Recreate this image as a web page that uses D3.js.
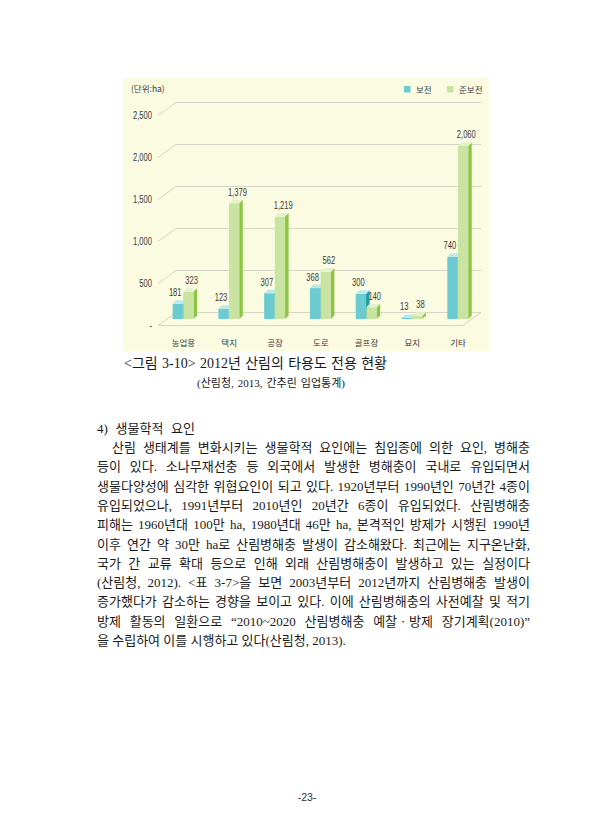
<!DOCTYPE html>
<html>
<head>
<meta charset="utf-8">
<script src="https://cdn.jsdelivr.net/npm/d3@7"></script>
<style>
  body { margin: 0; background: #fff; }
  svg { display: block; }
  .num { font-family: "Liberation Sans", "DejaVu Sans", sans-serif; font-size: 10px; fill: #3a3a3a; }
  .kr-small { font-family: "Noto Sans CJK KR", sans-serif; font-size: 8.5px; fill: #3a3a3a; }
  .body { font-family: "Liberation Serif", "Noto Sans CJK KR", serif; font-size: 13px; fill: #1a1a1a; }
</style>
</head>
<body>
<script>
"use strict";

// categories and series (unit: ha)
const categories = ["농업용", "택지", "공장", "도로", "골프장", "묘지", "기타"];
const seriesNames = ["보전", "준보전"];
const conserved = [181, 123, 307, 368, 300, 13, 740];
const semiConserved = [323, 1379, 1219, 562, 140, 38, 2060];
const yTicks = [0, 500, 1000, 1500, 2000, 2500];
const unitLabel = "(단위:ha)";

const captionText = "<그림 3-10> 2012년 산림의 타용도 전용 현황";
const sourceText = "(산림청, 2013, 간추린 임업통계)";
const headingText = "4) 생물학적 요인";
const bodyLines = [
  "산림 생태계를 변화시키는 생물학적 요인에는 침입종에 의한 요인, 병해충",
  "등이 있다. 소나무재선충 등 외국에서 발생한 병해충이 국내로 유입되면서",
  "생물다양성에 심각한 위협요인이 되고 있다. 1920년부터 1990년인 70년간 4종이",
  "유입되었으나, 1991년부터 2010년인 20년간 6종이 유입되었다. 산림병해충",
  "피해는 1960년대 100만 ha, 1980년대 46만 ha, 본격적인 방제가 시행된 1990년",
  "이후 연간 약 30만 ha로 산림병해충 발생이 감소해왔다. 최근에는 지구온난화,",
  "국가 간 교류 확대 등으로 인해 외래 산림병해충이 발생하고 있는 실정이다",
  "(산림청, 2012). <표 3-7>을 보면 2003년부터 2012년까지 산림병해충 발생이",
  "증가했다가 감소하는 경향을 보이고 있다. 이에 산림병해충의 사전예찰 및 적기",
  "방제 활동의 일환으로 “2010~2020 산림병해충 예찰ㆍ방제 장기계획(2010)”",
  "을 수립하여 이를 시행하고 있다(산림청, 2013)."
];
const pageNumber = "-23-";

const W = 613, H = 840;
const svg = d3.select("body").append("svg").attr("width", W).attr("height", H);
svg.append("rect").attr("width", W).attr("height", H).attr("fill", "#fff");

// chart panel
const panel = {x: 123, y: 78, w: 366, h: 273};
svg.append("rect")
   .attr("x", panel.x).attr("y", panel.y)
   .attr("width", panel.w).attr("height", panel.h)
   .attr("fill", "#fbfbe2");

// pseudo 3d geometry: front plane -> back plane offset
const depthX = 18, depthY = -13;
const frontLeft = 158, frontRight = 463;
const base = 319;               // bars stand at mid depth
const yMid = d3.scaleLinear().domain([0, 2500]).range([base, base - 210]);
const yBack = v => yMid(v) + depthY / 2;
const yFront = v => yMid(v) - depthY / 2;

const x = d3.scaleBand().domain(categories).range([160.5, 481]);

const chart = svg.append("g");
const gridColor = "#d6d6c4";

// narrow number labels: squeeze the sans font to the condensed look
const probe = svg.append("text").attr("class", "num").text("2,500");
const squeeze = 19 / probe.node().getComputedTextLength();
probe.remove();
function condense(sel)
{
  sel.each(function ()
  {
    const x0 = +this.getAttribute("x") || 0;
    this.setAttribute("transform", `translate(${x0 * (1 - squeeze)},0) scale(${squeeze},1)`);
  });
}

// back wall grid lines with their slanted left edge
chart.append("g").selectAll("path")
     .data(yTicks.filter(d => d > 0))
     .join("path")
     .attr("d", d => `M${frontLeft},${yFront(d)}L${frontLeft + depthX},${yBack(d)}H${frontRight + depthX}`)
     .attr("fill", "none")
     .attr("stroke", gridColor)
     .attr("stroke-width", 1);

// floor
chart.append("path")
     .attr("d", `M${frontLeft},${yFront(0)}L${frontLeft + depthX},${yBack(0)}H${frontRight + depthX}L${frontRight},${yFront(0)}Z`)
     .attr("fill", "none")
     .attr("stroke", gridColor)
     .attr("stroke-width", 1);

// y axis labels sit on the front plane
const yAxisScale = d3.scaleLinear().domain(yMid.domain()).range(yMid.range().map(r => r - depthY / 2));
const yAxis = chart.append("g")
     .attr("transform", `translate(${frontLeft},0)`)
     .call(d3.axisLeft(yAxisScale)
             .tickValues(yTicks)
             .tickSize(0)
             .tickPadding(6)
             .tickFormat(d => d === 0 ? "-" : d3.format(",")(d)));
yAxis.select(".domain").remove();
yAxis.selectAll("text")
     .attr("class", "num").attr("font-family", null).attr("font-size", null)
     .call(condense);

// category labels on the front
chart.append("g").selectAll("text")
     .data(categories)
     .join("text")
     .attr("class", "kr-small")
     .attr("x", d => x(d) + x.bandwidth() / 2)
     .attr("y", 346)
     .attr("text-anchor", "middle")
     .text(d => d);

// bars
const palette = [
  {front: "#6ccbd1", top: "#bce9eb", side: "#15a1a6"},
  {front: "#c9e3a3", top: "#e4f2cc", side: "#8cc540"}
];
const barW = 10.3, d3d = 3.5;
const series = [conserved, semiConserved];
const barX = (c, s) => x(c) + x.bandwidth() / 2 - barW + s * (barW + 0.3) - 0.5;

series.forEach((vals, s) => {
  const g = chart.append("g");
  const rows = categories.map((c, i) => ({c, v: vals[i]}));

  g.selectAll(".side").data(rows).join("path")
   .attr("fill", palette[s].side)
   .attr("d", d => {
     const x0 = barX(d.c, s) + barW, yt = yMid(d.v), yb = yMid(0);
     return `M${x0},${yt}L${x0 + d3d},${yt - d3d}V${yb - d3d}L${x0},${yb}Z`;
   });
  g.selectAll(".front").data(rows).join("rect")
   .attr("fill", palette[s].front)
   .attr("x", d => barX(d.c, s))
   .attr("y", d => yMid(d.v))
   .attr("width", barW)
   .attr("height", d => yMid(0) - yMid(d.v));
  g.selectAll(".top").data(rows).join("path")
   .attr("fill", palette[s].top)
   .attr("d", d => {
     const x0 = barX(d.c, s), yt = yMid(d.v);
     return `M${x0},${yt}L${x0 + d3d},${yt - d3d}H${x0 + barW + d3d}L${x0 + barW},${yt}Z`;
   });
});

// value labels above the bars, drawn last
series.forEach((vals, s) => {
  chart.append("g").selectAll("text")
       .data(categories.map((c, i) => ({c, v: vals[i]})))
       .join("text")
       .attr("class", "num")
       .attr("x", d => barX(d.c, s) + barW / 2 + (s === 0 ? -2.5 : d3d / 2 + 1.5))
       .attr("y", d => yMid(d.v) - d3d - 4)
       .attr("text-anchor", "middle")
       .text(d => d3.format(",")(d.v))
       .call(condense);
});

// unit + legend
chart.append("text").attr("class", "kr-small")
     .attr("x", 131).attr("y", 92).text(unitLabel);
const legend = chart.append("g").selectAll("g")
     .data(seriesNames)
     .join("g")
     .attr("transform", (d, i) => `translate(${404 + i * 43},86)`);
legend.append("rect").attr("width", 6.5).attr("height", 6.5)
      .attr("fill", (d, i) => palette[i].front);
legend.append("text").attr("class", "kr-small")
      .attr("x", 12).attr("y", 6.5).text(d => d);

// text block
function justify(sel, width)
{
  sel.each(function ()
  {
    const t = d3.select(this);
    const len = this.getComputedTextLength();
    const gaps = (t.text().match(/ /g) || []).length;
    if (gaps > 0)
      t.attr("word-spacing", (width - len) / gaps);
  });
}

svg.append("text").attr("class", "body")
   .attr("x", 124).attr("y", 368)
   .style("font-size", "14px")
   .text(captionText)
   .call(justify, 263);

svg.append("text").attr("class", "body")
   .attr("x", 197).attr("y", 387)
   .style("font-size", "11px")
   .text(sourceText)
   .call(justify, 148);

svg.append("text").attr("class", "body")
   .attr("x", 97).attr("y", 433)
   .text(headingText)
   .call(justify, 98);

const lineGap = 19.3;
bodyLines.forEach((line, i) => {
  const left = i === 0 ? 112 : 97;
  const t = svg.append("text").attr("class", "body")
     .attr("x", left).attr("y", 452 + i * lineGap)
     .text(line);
  if (i < bodyLines.length - 1)
    t.call(justify, 530 - left);
});

svg.append("text")
   .attr("x", 307).attr("y", 801)
   .attr("text-anchor", "middle")
   .style("font-family", "'Liberation Sans', sans-serif")
   .style("font-size", "10.5px")
   .style("fill", "#333")
   .text(pageNumber);
</script>
</body>
</html>
